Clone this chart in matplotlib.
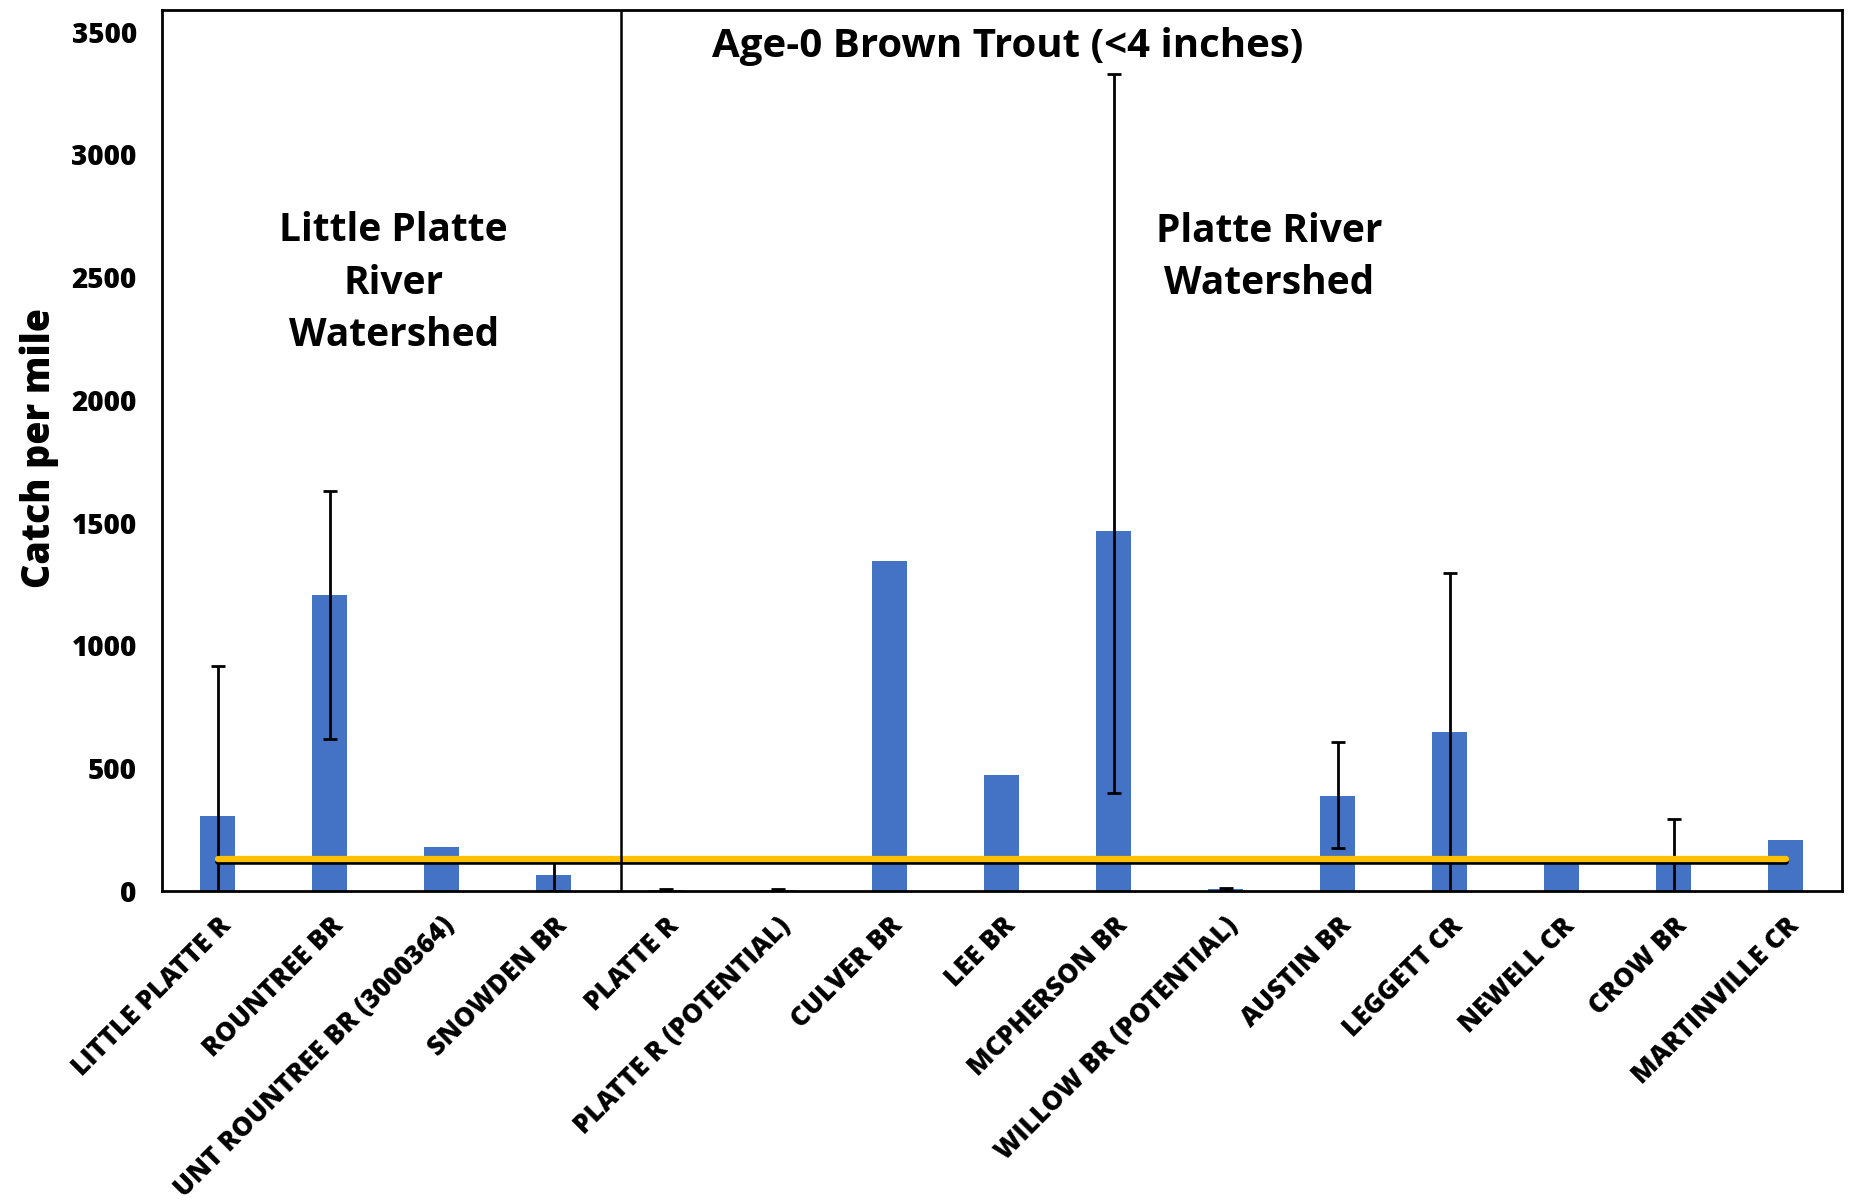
import matplotlib
matplotlib.use("Agg")
import matplotlib.pyplot as plt
import numpy as np

plt.rcParams['font.family'] = ['Open Sans', 'DejaVu Sans']

sites = ["LITTLE PLATTE R", "ROUNTREE BR", "UNT ROUNTREE BR (3000364)", "SNOWDEN BR",
         "PLATTE R", "PLATTE R (POTENTIAL)", "CULVER BR", "LEE BR", "MCPHERSON BR",
         "WILLOW BR (POTENTIAL)", "AUSTIN BR", "LEGGETT CR", "NEWELL CR", "CROW BR",
         "MARTINVILLE CR"]
catch = [303, 1204, 178, 63, 4, 3, 1343, 472, 1464, 5, 385, 645, 112, 115, 207]
err_low = [610, 585, 0, 63, 4, 3, 0, 0, 1064, 5, 212, 650, 0, 180, 0]
err_high = [612, 423, 0, 57, 4, 3, 0, 0, 1863, 5, 222, 650, 0, 179, 0]
has_err = [True, True, False, True, True, True, False, False, True, True, True, True, False, True, False]
ref_yellow = 130
ref_black = 116
yticks = [0, 500, 1000, 1500, 2000, 2500, 3000, 3500]

fig = plt.figure(figsize=(18.51, 12.02), dpi=100)
ax = fig.add_axes([0.0874, 0.259, 0.9076, 0.733])

x = np.arange(len(sites))
ax.bar(x, catch, width=0.31, color='#4472C4', zorder=2)

idx = [i for i in range(len(sites)) if has_err[i]]
ax.errorbar(x[idx], np.array(catch)[idx],
            yerr=[np.array(err_low)[idx], np.array(err_high)[idx]],
            fmt='none', ecolor='black', elinewidth=2, capsize=5, capthick=2, zorder=3)

ax.plot([x[0], x[-1]], [ref_black, ref_black], color='black', lw=4,
        solid_capstyle='round', zorder=4)
ax.plot([x[0], x[-1]], [ref_yellow, ref_yellow], color='#FFC000', lw=4.5,
        solid_capstyle='round', zorder=5)

ax.axvline(3.6, color='black', lw=1.8, zorder=6)

ax.set_xlim(-0.5, len(sites) - 0.5)
ax.set_ylim(0, 3590)
ax.set_yticks(yticks)
ax.set_yticklabels([str(v) for v in yticks], fontsize=20, fontweight='heavy')
ax.set_xticks(x)
ax.set_xticklabels(sites, rotation=45, ha='right', rotation_mode='anchor',
                   fontsize=19, fontweight='heavy')
ax.tick_params(axis='y', length=0, pad=18)
ax.tick_params(axis='x', length=0, pad=16)
for s in ax.spines.values():
    s.set_linewidth(2)
    s.set_color('black')

fig.text(0.021, 0.627, "Catch per mile", rotation=90, ha='center', va='center',
         fontsize=27, fontweight='heavy')

ax.text(7.05, 3440, "Age-0 Brown Trout (<4 inches)", ha='center', va='center',
        fontsize=29, fontweight='bold')
ax.text(1.57, 2475, "Little Platte\nRiver\nWatershed", ha='center', va='center',
        fontsize=28, fontweight='bold', linespacing=1.45)
ax.text(9.39, 2580, "Platte River\nWatershed", ha='center', va='center',
        fontsize=28, fontweight='bold', linespacing=1.45)

fig.savefig("out.png", dpi=100)
